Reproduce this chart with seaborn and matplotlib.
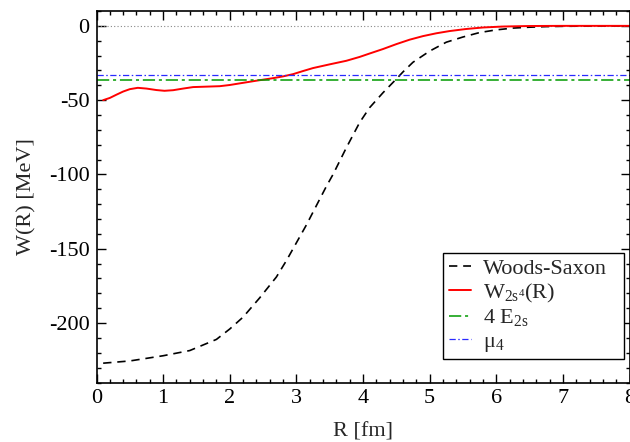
import numpy as np
import pandas as pd
import matplotlib
matplotlib.use("Agg")
import matplotlib.pyplot as plt
from matplotlib.ticker import MultipleLocator
import seaborn as sns

# ---- data ----
ws_r = [0.1, 0.5, 1.0, 1.4, 1.8, 2.0, 2.2, 2.45, 2.7, 2.85, 3.0, 3.15, 3.3, 3.45,
        3.55, 3.75, 3.95, 4.1, 4.3, 4.48, 4.6, 4.75, 4.9, 5.0, 5.25, 5.5, 5.75,
        6.0, 6.25, 6.5, 6.75, 7.0, 7.5, 8.0]
ws_w = [-227, -225.5, -222, -218.5, -211, -204, -196, -183, -169, -158, -146,
        -134, -121, -108, -100, -82, -65, -55, -45, -36.7, -31, -24.5, -20,
        -17, -11, -7.5, -4.5, -2.7, -1.5, -0.9, -0.5, -0.3, -0.1, 0.0]

w_r = [0.1, 0.2, 0.3, 0.4, 0.5, 0.62, 0.75, 0.9, 1.02, 1.15, 1.3, 1.45, 1.65,
       1.85, 2.0, 2.15, 2.4, 2.65, 2.8, 2.95, 3.1, 3.25, 3.5, 3.75, 3.95, 4.1,
       4.3, 4.5, 4.7, 4.9, 5.1, 5.3, 5.55, 5.8, 6.1, 6.5, 7.0, 8.0]
w_w = [-50.0, -48.5, -46.3, -44.2, -42.6, -41.7, -42.2, -43.2, -43.7, -43.3,
       -42.2, -41.2, -40.9, -40.6, -39.8, -38.7, -36.9, -35.2, -34.0, -32.5,
       -30.4, -28.4, -25.9, -23.5, -20.9, -18.6, -15.6, -12.3, -9.3, -6.9,
       -5.0, -3.5, -2.1, -1.1, -0.45, -0.1, 0.0, 0.0]

e2s_level = -36.7
mu4_level = -33.4
zero_level = 0.0
r_span = [0.0, 8.0]

labels = ["Woods-Saxon",
          r"W$_{\mathrm{2s}^{\mathrm{4}}}$(R)",
          r"4 E$_{\mathrm{2s}}$",
          r"$\mathrm{\mu}_{\mathrm{4}}$"]
x_ticks = [0, 1, 2, 3, 4, 5, 6, 7, 8]
y_ticks = [0, -50, -100, -150, -200]

# ---- style ----
sns.set_theme(style="ticks")
plt.rcParams["font.family"] = ["Liberation Serif", "DejaVu Serif"]
plt.rcParams["mathtext.fontset"] = "custom"
plt.rcParams["mathtext.rm"] = "Liberation Serif"
plt.rcParams["mathtext.it"] = "Liberation Serif:italic"
plt.rcParams["mathtext.default"] = "rm"
plt.rcParams["axes.unicode_minus"] = False
plt.rcParams["lines.solid_joinstyle"] = "round"
plt.rcParams["lines.dash_joinstyle"] = "round"

fig = plt.figure(figsize=(6.30, 4.42), dpi=100)
ax = fig.add_axes([96.5 / 630, (442 - 382.5) / 442, 533 / 630, 371.5 / 442])

sns.lineplot(x=r_span, y=[zero_level, zero_level], ax=ax, color="#888888",
             linewidth=0.8, linestyle=(0, (1, 2)), label="_nolegend_")
sns.lineplot(x=ws_r, y=ws_w, ax=ax, color="black", linewidth=1.2,
             linestyle=(0, (5, 3.5)), label=labels[0], sort=False)
sns.lineplot(x=w_r, y=w_w, ax=ax, color="#ff0000", linewidth=1.4,
             label=labels[1], sort=False)
sns.lineplot(x=r_span, y=[e2s_level, e2s_level], ax=ax, color="#009a00",
             linewidth=1.1, linestyle=(0, (8, 2.5, 2, 2.5)), label=labels[2])
sns.lineplot(x=r_span, y=[mu4_level, mu4_level], ax=ax, color="#2a2aff",
             linewidth=0.9, linestyle=(0, (5, 2, 1.2, 2)), label=labels[3])

ax.set_xlim(0, 8)
ax.set_ylim(-240, 10)
ax.set_xticks(x_ticks)
ax.set_yticks(y_ticks)
ax.xaxis.set_minor_locator(MultipleLocator(0.2))
ax.yaxis.set_minor_locator(MultipleLocator(10))
ax.tick_params(which="both", direction="in", top=True, right=True,
               labelsize=16, colors="black", width=1.0)
ax.tick_params(which="major", length=6.5, pad=5)
ax.tick_params(which="minor", length=3.2)
for s in ax.spines.values():
    s.set_linewidth(1.2)
    s.set_color("black")

ax.set_xlabel("R [fm]", fontsize=16, labelpad=10)
ax.set_ylabel("W(R) [MeV]", fontsize=16, labelpad=9)

leg = ax.legend(loc="lower left", bbox_to_anchor=(0.650, 0.063, 0.340, 0.294),
                mode="expand", fontsize=16,
                frameon=True, fancybox=False, framealpha=1, edgecolor="black",
                handlelength=1.0, handletextpad=0.55, labelspacing=0.12,
                borderpad=0.25, borderaxespad=0)
leg.get_frame().set_linewidth(1.0)

fig.savefig("out.png", dpi=100)
